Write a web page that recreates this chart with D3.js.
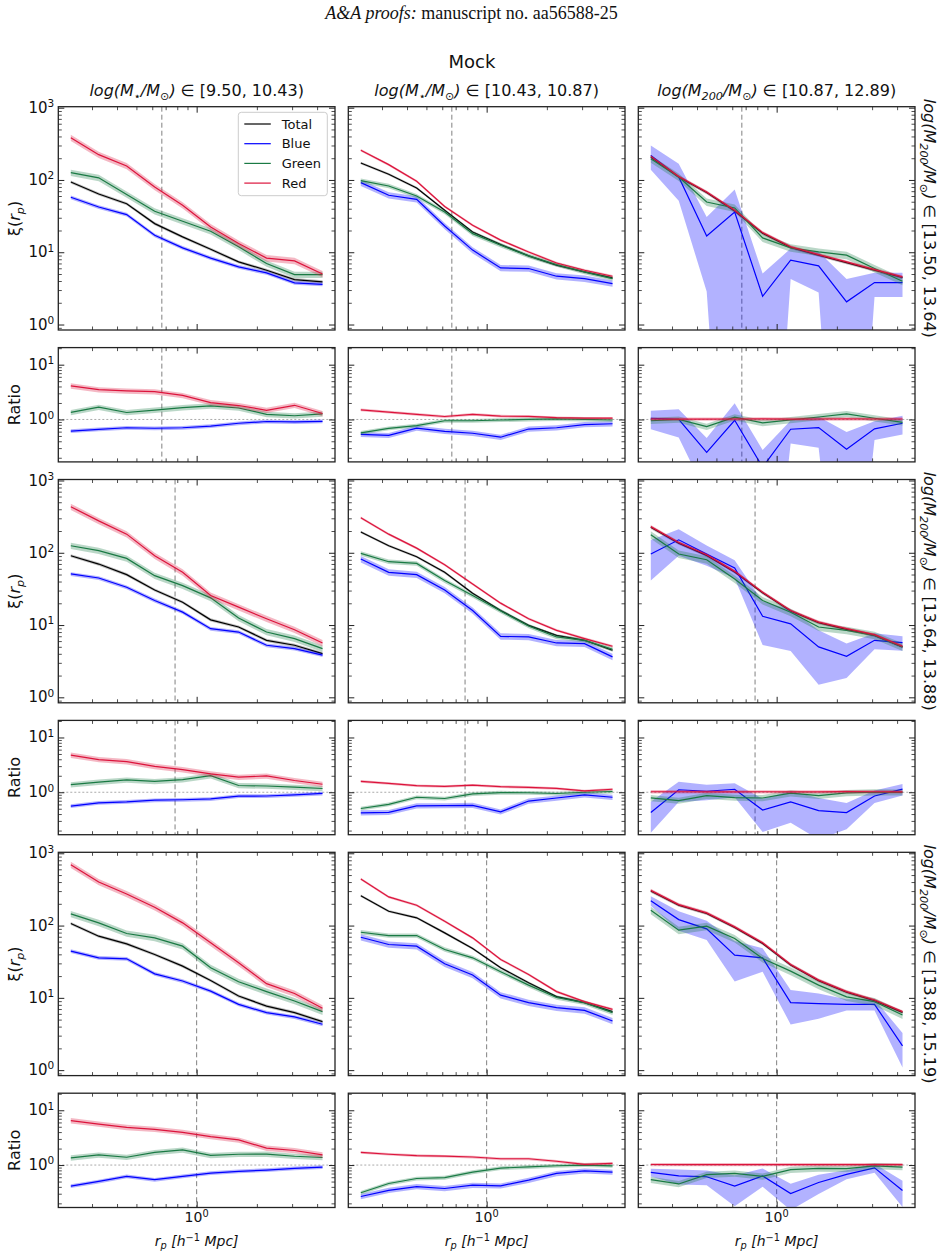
<!DOCTYPE html>
<html>
<head>
<meta charset="utf-8">
<script src="https://cdn.jsdelivr.net/npm/d3@7"></script>
<style>
  body { margin: 0; background: #fff; }
  svg { display: block; font-family: "DejaVu Sans", sans-serif; }
</style>
</head>
<body>
<svg id="chart" width="943" height="1255"></svg>
<script>
// projected separation bin centres (h^-1 Mpc)
const rp = [0.235, 0.324, 0.447, 0.617, 0.851, 1.175, 1.621, 2.236, 3.085, 4.257];
const xLim = [0.2035, 4.915];
const mainYLim = [0.84, 1032];
const ratioYLim = [0.168, 20.5];
const rVir = [0.67, 0.78, 1.0];   // dashed line per row

const colSub = ["⋆", "⋆", "200"];
const colRanges = ["[9.50, 10.43)", "[10.43, 10.87)", "[10.87, 12.89)"];
const rowRanges = ["[13.50, 13.64)", "[13.64, 13.88)", "[13.88, 15.19)"];

const seriesNames = ["Total", "Blue", "Green", "Red"];
const seriesColors = { Total: "#000000", Blue: "#0000ff", Green: "#1a7a44", Red: "#dc143c" };

// ---- row 1 ----
const total_r1c1 = [93.7, 64, 47, 24.9, 16.3, 11.0, 7.35, 5.64, 4.19, 3.89];
const blue_r1c1  = [57.6, 42.3, 33.2, 17.2, 11.5, 8.3, 6.27, 5.18, 3.77, 3.6];
const green_r1c1 = [126, 107, 63, 36.9, 26.8, 19.5, 11.9, 7.0, 4.9, 4.9];
const red_r1c1   = [385, 224, 156, 80, 44.7, 22.4, 13.2, 8.3, 7.6, 5.0];

const total_r1c2 = [172, 120, 77.5, 38, 19.1, 12.8, 8.9, 6.6, 5.35, 4.42];
const blue_r1c2  = [91.8, 61.4, 54, 23.1, 10.7, 6.07, 5.95, 4.66, 4.32, 3.69];
const green_r1c2 = [98, 82.6, 60, 36, 18.1, 12.5, 8.9, 6.75, 5.35, 4.32];
const red_r1c2   = [257, 163, 96, 43, 23.6, 14.7, 10.1, 7.1, 5.64, 4.66];

const total_r1c3 = [208, 110, 67, 37.3, 18.3, 11.7, 9.1, 7.2, 5.65, 4.47];
const blue_r1c3  = [219, 110, 16.8, 36, 2.46, 7.75, 6.47, 2.06, 3.81, 3.81];
const green_r1c3 = [197, 110, 49.6, 41, 15.8, 11.5, 10.1, 9.1, 5.95, 3.97];
const red_r1c3   = [212, 112, 68, 38, 18.7, 11.9, 9.28, 7.35, 5.76, 4.56];

// ---- row 2 ----
const total_r2c1 = [91, 69.8, 49.8, 30.6, 20.7, 11.8, 9.4, 6.15, 5.25, 4.03];
const blue_r2c1  = [50.9, 44.8, 33.3, 21.9, 15.1, 8.9, 8.0, 5.25, 4.72, 3.83];
const green_r2c1 = [125, 107, 83.6, 48.2, 35.1, 23.8, 12.5, 8.0, 6.5, 4.72];
const red_r2c1   = [434, 276, 181, 91, 53.6, 25.6, 17.7, 12.2, 8.6, 5.65];

const total_r2c2 = [194, 125, 88, 53.6, 27.5, 15.9, 9.9, 7.2, 6.15, 4.48];
const blue_r2c2  = [81.8, 53.6, 49.8, 30.6, 15.9, 6.98, 6.84, 5.65, 5.53, 3.63];
const green_r2c2 = [98, 75.2, 71.3, 41.2, 25.6, 15.6, 9.7, 6.84, 6.15, 4.63];
const red_r2c2   = [306, 181, 116, 68.4, 37, 20.1, 12.2, 8.45, 6.5, 5.09];

const total_r2c3 = [225, 136, 92, 54.2, 27.9, 15.6, 10.8, 8.7, 7.2, 4.99];
const blue_r2c3  = [96, 151, 96, 61.5, 13.2, 10.4, 4.98, 3.7, 6.15, 5.71];
const green_r2c3 = [177, 96, 80, 43.4, 21.9, 15.0, 9.4, 8.45, 7.2, 4.98];
const red_r2c3   = [230, 139, 93.8, 55.3, 28.5, 15.9, 11.0, 8.9, 7.36, 5.09];

// ---- row 3 ----
const total_r3c1 = [107, 71.3, 55.9, 39.8, 27.5, 17.4, 10.6, 7.7, 6.24, 4.69];
const blue_r3c1  = [44.3, 35.8, 34.7, 21.5, 17.1, 12.4, 8.13, 6.24, 5.44, 4.31];
const green_r3c1 = [145, 109, 77.6, 67.6, 51.9, 26.1, 16.7, 12.2, 9.04, 6.44];
const red_r3c1   = [694, 400, 273, 179, 109, 57.7, 30.5, 15.7, 11.5, 7.2];

const total_r3c2 = [259, 158, 128, 79.3, 48.2, 26.1, 16.2, 10.4, 8.58, 6.44];
const blue_r3c2  = [69, 54.7, 51.9, 29.6, 20.7, 10.9, 8.58, 7.32, 6.72, 4.79];
const green_r3c2 = [80.9, 72.8, 72.8, 46.7, 35.8, 23, 15, 10.1, 8.58, 6.24];
const red_r3c2   = [440, 249, 191, 115, 67.6, 34, 21.1, 12.2, 8.85, 6.94];

const total_r3c3 = [300, 191, 147, 94, 56.5, 28.4, 17.3, 12.0, 9.15, 6.3];
const blue_r3c3  = [221, 121, 90, 39, 35.8, 8.58, 8.31, 8.13, 8.13, 2.17];
const green_r3c3 = [163, 86.3, 98, 66.2, 35.1, 23.4, 15, 10.3, 8.85, 5.8];
const red_r3c3   = [307, 195, 150, 95.9, 57.7, 29, 17.6, 12.2, 9.33, 6.44];

const totalErr_c1 = [0.05, 0.05, 0.05, 0.05, 0.05, 0.05, 0.05, 0.05, 0.05, 0.05];
const blueErr_c1  = [0.06, 0.06, 0.06, 0.06, 0.06, 0.06, 0.06, 0.06, 0.06, 0.06];
const greenErr_c1 = [0.10, 0.10, 0.10, 0.10, 0.10, 0.10, 0.10, 0.10, 0.10, 0.10];
const redErr_c1   = [0.10, 0.10, 0.10, 0.10, 0.10, 0.10, 0.10, 0.10, 0.10, 0.10];

const totalErr_c2 = [0.04, 0.04, 0.04, 0.04, 0.04, 0.04, 0.04, 0.04, 0.04, 0.04];
const blueErr_c2  = [0.10, 0.10, 0.10, 0.10, 0.10, 0.10, 0.10, 0.10, 0.10, 0.10];
const greenErr_c2 = [0.07, 0.07, 0.07, 0.07, 0.07, 0.07, 0.07, 0.07, 0.07, 0.07];
const redErr_c2   = [0.04, 0.04, 0.04, 0.04, 0.04, 0.04, 0.04, 0.04, 0.04, 0.04];

const totalErr_c3 = [0.05, 0.05, 0.05, 0.05, 0.05, 0.05, 0.05, 0.05, 0.05, 0.05];
const greenErr_c3 = [0.12, 0.12, 0.12, 0.12, 0.12, 0.12, 0.12, 0.12, 0.12, 0.12];
const redErr_c3   = [0.05, 0.05, 0.05, 0.05, 0.05, 0.05, 0.05, 0.05, 0.05, 0.05];
const blueErr_r1c3 = [0.37, 0.53, 0.83, 1.05, 1.06, 0.45, 0.57, 1.07, 0.37, 0.37];
const blueErr_r2c3 = [0.57, 0.40, 0.31, 0.28, 0.60, 0.58, 0.70, 0.50, 0.25, 0.23];
const blueErr_r3c3 = [0.15, 0.30, 0.30, 0.57, 0.36, 0.50, 0.38, 0.18, 0.18, 0.50];

const grid = [
  [
    { Total: [total_r1c1, totalErr_c1], Blue: [blue_r1c1, blueErr_c1], Green: [green_r1c1, greenErr_c1], Red: [red_r1c1, redErr_c1] },
    { Total: [total_r1c2, totalErr_c2], Blue: [blue_r1c2, blueErr_c2], Green: [green_r1c2, greenErr_c2], Red: [red_r1c2, redErr_c2] },
    { Total: [total_r1c3, totalErr_c3], Blue: [blue_r1c3, blueErr_r1c3], Green: [green_r1c3, greenErr_c3], Red: [red_r1c3, redErr_c3] }
  ],
  [
    { Total: [total_r2c1, totalErr_c1], Blue: [blue_r2c1, blueErr_c1], Green: [green_r2c1, greenErr_c1], Red: [red_r2c1, redErr_c1] },
    { Total: [total_r2c2, totalErr_c2], Blue: [blue_r2c2, blueErr_c2], Green: [green_r2c2, greenErr_c2], Red: [red_r2c2, redErr_c2] },
    { Total: [total_r2c3, totalErr_c3], Blue: [blue_r2c3, blueErr_r2c3], Green: [green_r2c3, greenErr_c3], Red: [red_r2c3, redErr_c3] }
  ],
  [
    { Total: [total_r3c1, totalErr_c1], Blue: [blue_r3c1, blueErr_c1], Green: [green_r3c1, greenErr_c1], Red: [red_r3c1, redErr_c1] },
    { Total: [total_r3c2, totalErr_c2], Blue: [blue_r3c2, blueErr_c2], Green: [green_r3c2, greenErr_c2], Red: [red_r3c2, redErr_c2] },
    { Total: [total_r3c3, totalErr_c3], Blue: [blue_r3c3, blueErr_r3c3], Green: [green_r3c3, greenErr_c3], Red: [red_r3c3, redErr_c3] }
  ]
];

// layout
const colLeft = [58.3, 348.3, 638.3], panelW = 276.7;
const mainTop = [106.7, 479.5, 852.3], mainH = 223.3;
const ratioGap = 240.9, ratioH = 114.3;
const FS = 16;

const svg = d3.select("#chart");

const x = d3.scaleLog().domain(xLim).range([0, panelW]);
const yMain = d3.scaleLog().domain(mainYLim).range([mainH, 0]);
const yRatio = d3.scaleLog().domain(ratioYLim).range([ratioH, 0]);

// mathtext-ish helper: parts with italic / sub / sup
function addMath(sel, parts, size) {
    let cur = 0;
    parts.forEach(p => {
        const shift = p.sub ? size * 0.22 : p.sup ? -size * 0.38 : 0;
        const ts = sel.append("tspan").text(p.t).attr("dy", shift - cur);
        cur = shift;
        if (p.it) ts.attr("font-style", "italic");
        if (p.sub || p.sup) ts.attr("font-size", size * 0.7);
    });
}

function drawTicks(g, scale, orient, w, h, vals, len) {
    const make = { left: d3.axisLeft, right: d3.axisRight, top: d3.axisTop, bottom: d3.axisBottom }[orient];
    const ax = make(scale).tickValues(vals).tickSize(-len).tickSizeOuter(0).tickFormat("");
    const t = g.append("g")
        .attr("transform", orient === "right" ? `translate(${w},0)` : orient === "bottom" ? `translate(0,${h})` : null)
        .call(ax);
    t.select(".domain").remove();
    t.selectAll("line").attr("stroke", "#222").attr("stroke-width", len > 4 ? 1 : 0.8);
}

function isPow10(v) { return Math.abs(Math.log10(v) - Math.round(Math.log10(v))) < 1e-9; }

let clipId = 0;
function drawPanel(left, top, h, yScale, seriesList, rv, opts) {
    const g = svg.append("g").attr("transform", `translate(${left},${top})`);
    const id = "clip" + (clipId++);
    g.append("clipPath").attr("id", id).append("rect").attr("width", panelW).attr("height", h);
    const inner = g.append("g").attr("clip-path", `url(#${id})`);

    if (opts.unity) {
        inner.append("line")
            .attr("x1", 0).attr("x2", panelW)
            .attr("y1", yScale(1)).attr("y2", yScale(1))
            .attr("stroke", "#aaaaaa").attr("stroke-width", 1).attr("stroke-dasharray", "2,2");
    }
    inner.append("line")
        .attr("x1", x(rv)).attr("x2", x(rv))
        .attr("y1", 0).attr("y2", h)
        .attr("stroke", "#808080").attr("stroke-width", 1).attr("stroke-dasharray", "5,3");

    const area = d3.area()
        .x(d => x(d.x))
        .y0(d => yScale(d.lo))
        .y1(d => yScale(d.hi));
    const line = d3.line().x(d => x(d.x)).y(d => yScale(d.v));

    seriesList.forEach(s => {
        const pts = s.v.map((v, i) => ({
            x: rp[i], v: v,
            lo: Math.max(v * (1 - s.e[i]), 1e-5),
            hi: v * (1 + s.e[i])
        }));
        inner.append("path").datum(pts)
            .attr("d", area)
            .attr("fill", seriesColors[s.name])
            .attr("fill-opacity", s.name === "Total" ? 0.25 : 0.3)
            .attr("stroke", "none");
        inner.append("path").datum(pts)
            .attr("d", line)
            .attr("fill", "none")
            .attr("stroke", seriesColors[s.name])
            .attr("stroke-width", 1.2);
    });

    // ticks on all sides, pointing in
    const xt = x.ticks();
    const xMaj = xt.filter(isPow10), xMin = xt.filter(v => !isPow10(v));
    const yt = yScale.ticks().filter(v => v >= yScale.domain()[0] && v <= yScale.domain()[1]);
    const yMaj = yt.filter(isPow10), yMin = yt.filter(v => !isPow10(v));
    ["top", "bottom"].forEach(o => {
        drawTicks(g, x, o, panelW, h, xMaj, 6);
        drawTicks(g, x, o, panelW, h, xMin, 3.5);
    });
    ["left", "right"].forEach(o => {
        drawTicks(g, yScale, o, panelW, h, yMaj, 6);
        drawTicks(g, yScale, o, panelW, h, yMin, 3.5);
    });

    g.append("rect").attr("width", panelW).attr("height", h)
        .attr("fill", "none").attr("stroke", "#222").attr("stroke-width", 1.3);

    if (opts.yLabels) {
        yMaj.forEach(v => {
            const t = g.append("text")
                .attr("x", -4).attr("y", yScale(v) + 5)
                .attr("text-anchor", "end")
                .attr("font-size", 15).attr("fill", "#111");
            addMath(t, [{ t: "10" }, { t: String(Math.round(Math.log10(v))), sup: true }], 15);
        });
    }
    if (opts.xLabels) {
        xMaj.forEach(v => {
            const t = g.append("text")
                .attr("x", x(v)).attr("y", h + 15)
                .attr("text-anchor", "middle")
                .attr("font-size", 14).attr("fill", "#111");
            addMath(t, [{ t: "10" }, { t: String(Math.round(Math.log10(v))), sup: true }], 14);
        });
    }
    return g;
}

// header
const head = svg.append("text")
    .attr("x", 471.5).attr("y", 19)
    .attr("text-anchor", "middle")
    .attr("font-family", "'Liberation Serif', 'DejaVu Serif', serif")
    .attr("font-size", 18).attr("fill", "#111");
head.append("tspan").attr("font-style", "italic").text("A&A proofs:");
head.append("tspan").text(" manuscript no. aa56588-25");

svg.append("text")
    .attr("x", 472).attr("y", 68)
    .attr("text-anchor", "middle")
    .attr("font-size", 18).attr("fill", "#111")
    .text("Mock");

// column titles
colRanges.forEach((rng, c) => {
    const t = svg.append("text")
        .attr("x", colLeft[c] + panelW / 2).attr("y", 96)
        .attr("text-anchor", "middle")
        .attr("font-size", FS).attr("fill", "#111");
    addMath(t, [
        { t: "log(M", it: true }, { t: colSub[c], sub: true, it: true },
        { t: "/M", it: true }, { t: "⊙", sub: true }, { t: ")", it: true },
        { t: " ∈ " + rng }
    ], FS);
});

// panels
for (let r = 0; r < 3; r++) {
    for (let c = 0; c < 3; c++) {
        const cell = grid[r][c];
        const mainSeries = seriesNames.map(n => ({ name: n, v: cell[n][0], e: cell[n][1] }));
        drawPanel(colLeft[c], mainTop[r], mainH, yMain, mainSeries, rVir[r],
            { yLabels: c === 0, xLabels: false });

        // ratio to total, errors propagated from both
        const tot = cell.Total;
        const ratioSeries = ["Blue", "Green", "Red"].map(n => ({
            name: n,
            v: cell[n][0].map((v, i) => v / tot[0][i]),
            e: cell[n][1].map((f, i) => Math.sqrt(f * f + tot[1][i] * tot[1][i]))
        }));
        drawPanel(colLeft[c], mainTop[r] + ratioGap, ratioH, yRatio, ratioSeries, rVir[r],
            { yLabels: c === 0, xLabels: r === 2, unity: true });
    }

    // y labels
    const yc = mainTop[r] + mainH / 2;
    const yl = svg.append("text")
        .attr("transform", `translate(20,${yc}) rotate(-90)`)
        .attr("text-anchor", "middle")
        .attr("font-size", FS).attr("fill", "#111");
    addMath(yl, [{ t: "ξ(" }, { t: "r", it: true }, { t: "p", it: true, sub: true }, { t: ")" }], FS);

    svg.append("text")
        .attr("transform", `translate(20,${mainTop[r] + ratioGap + ratioH / 2}) rotate(-90)`)
        .attr("text-anchor", "middle")
        .attr("font-size", FS).attr("fill", "#111")
        .text("Ratio");

    // row labels on the right
    const rl = svg.append("text")
        .attr("transform", `translate(923.5,${yc}) rotate(90)`)
        .attr("text-anchor", "middle")
        .attr("font-size", FS).attr("fill", "#111");
    addMath(rl, [
        { t: "log(M", it: true }, { t: "200", sub: true, it: true },
        { t: "/M", it: true }, { t: "⊙", sub: true }, { t: ")", it: true },
        { t: " ∈ " + rowRanges[r] }
    ], FS);
}

// x labels
colLeft.forEach(cl => {
    const t = svg.append("text")
        .attr("x", cl + panelW / 2).attr("y", 1246)
        .attr("text-anchor", "middle")
        .attr("font-size", 14).attr("fill", "#111");
    addMath(t, [
        { t: "r", it: true }, { t: "p", it: true, sub: true },
        { t: " [h", it: true }, { t: "−1", sup: true }, { t: " Mpc]", it: true }
    ], 14);
});

// legend (top-left panel)
const leg = svg.append("g").attr("transform", "translate(238.3,112.3)");
leg.append("rect").attr("width", 89).attr("height", 83.4).attr("rx", 3)
    .attr("fill", "#fff").attr("fill-opacity", 0.8)
    .attr("stroke", "#cccccc").attr("stroke-width", 1);
seriesNames.forEach((n, i) => {
    const yy = 11.7 + i * 19.7;
    leg.append("line").attr("x1", 6).attr("x2", 32.5).attr("y1", yy).attr("y2", yy)
        .attr("stroke", seriesColors[n]).attr("stroke-width", 1.2);
    leg.append("text").attr("x", 43.4).attr("y", yy + 4.6)
        .attr("font-size", 13).attr("fill", "#111").text(n);
});
</script>
</body>
</html>
